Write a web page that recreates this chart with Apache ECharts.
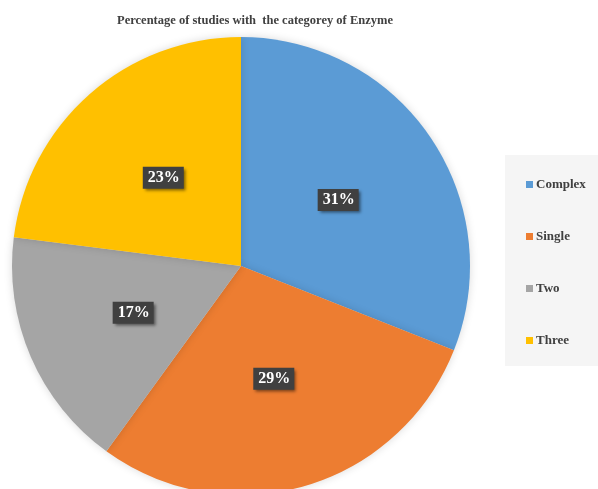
<!DOCTYPE html>
<html><head><meta charset="utf-8">
<script src="https://cdn.jsdelivr.net/npm/echarts@6/dist/echarts.min.js"></script>
<style>html,body{margin:0;padding:0;background:#fff}#c{width:598px;height:489px}</style>
</head><body><div id="c"></div>
<script>
var titleText = 'Percentage of studies with  the categorey of Enzyme';
var categories = ['Complex', 'Single', 'Two', 'Three'];
var values = [31, 29, 17, 23];
var colors = ['#5B9BD5', '#ED7D31', '#A5A5A5', '#FFC000'];

var chart = echarts.init(document.getElementById('c'), null, {renderer: 'canvas'});
chart.setOption({
  animation: false,
  color: colors,
  title: {
    text: titleText, left: 250, top: 9, textAlign: 'center',
    textStyle: {fontFamily: 'Liberation Serif', fontWeight: 'bold', fontSize: 12.5, color: '#404040'}
  },
  legend: {
    orient: 'vertical', left: 505, top: 155,
    data: categories,
    icon: 'rect', itemWidth: 7, itemHeight: 7, itemGap: 39,
    backgroundColor: '#f5f5f5',
    padding: [23, 14, 19, 21],
    textStyle: {fontFamily: 'Liberation Serif', fontWeight: 'bold', fontSize: 13, color: '#404040', padding: [0,0,0,-2]}
  },
  series: [{
    type: 'pie',
    center: [241, 266], radius: 229,
    startAngle: 90, clockwise: true,
    data: categories.map(function(n, i){ return {name: n, value: values[i]}; }),
    itemStyle: {borderWidth: 0, shadowBlur: 8, shadowColor: 'rgba(0,0,0,0.15)'},
    label: {
      position: 'inside', formatter: '{d}%',
      color: '#fff', fontFamily: 'Liberation Serif', fontWeight: 'bold', fontSize: 16,
      backgroundColor: '#404040', padding: [4, 4, 2, 5],
      shadowColor: 'rgba(0,0,0,0.5)', shadowBlur: 3, shadowOffsetX: 2, shadowOffsetY: 2
    },
    labelLine: {show: false},
    emphasis: {disabled: true}
  }]
});
</script></body></html>
